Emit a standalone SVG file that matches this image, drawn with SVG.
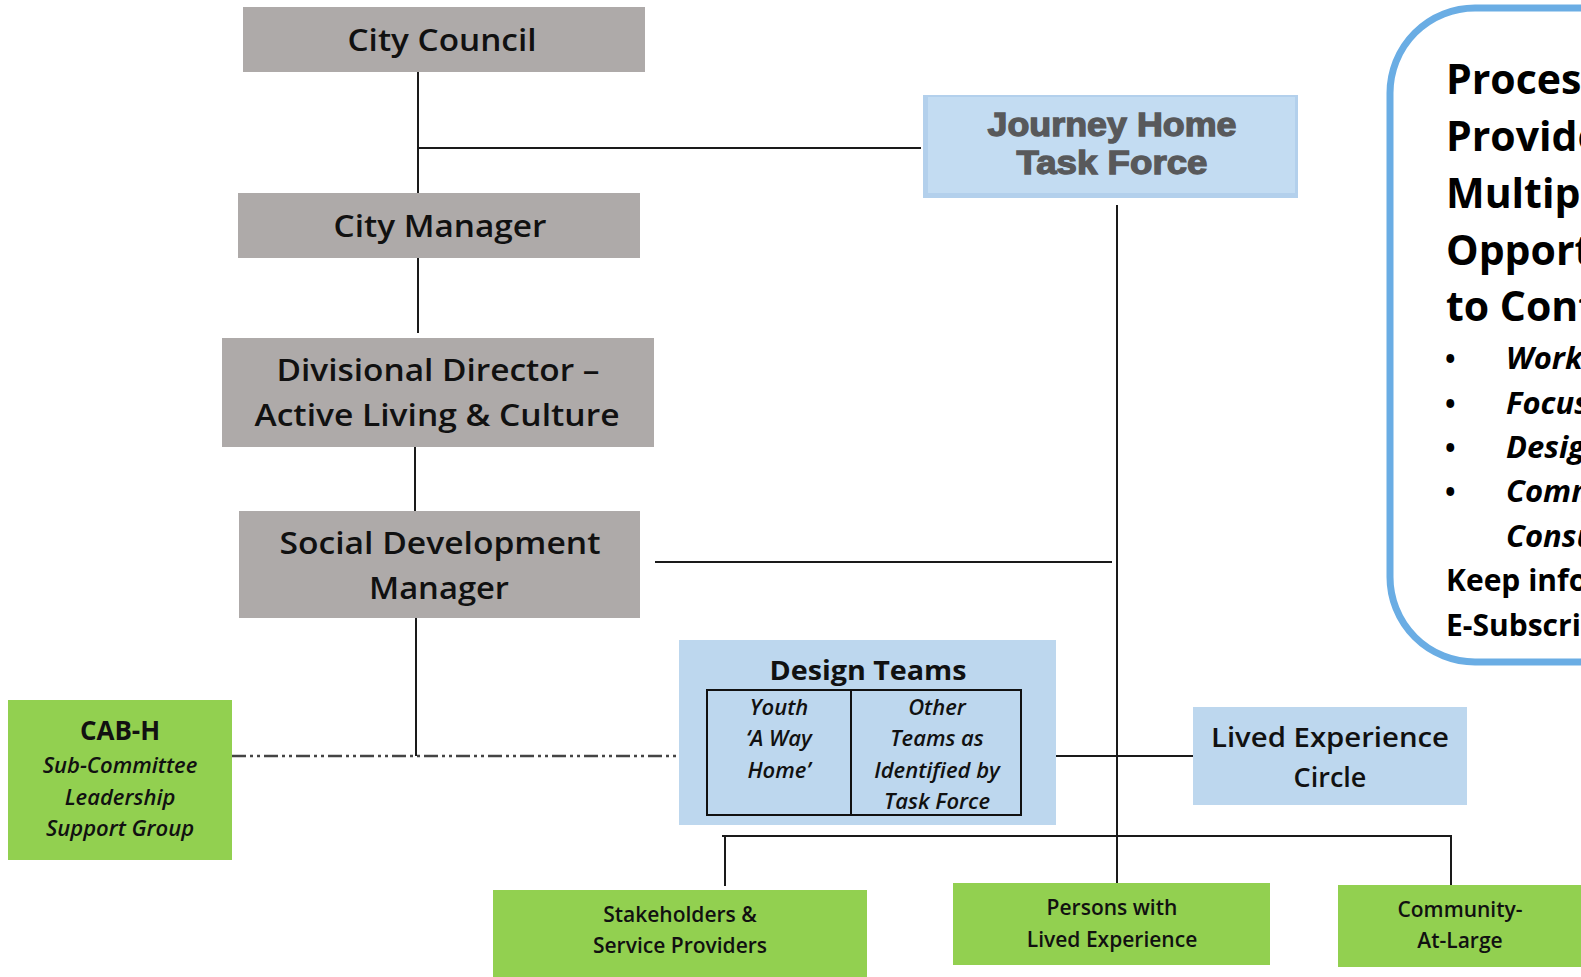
<svg xmlns="http://www.w3.org/2000/svg" width="1581" height="977" viewBox="0 0 1581 977">
<style>
.gray{fill:#AEAAA9}
.blue{fill:#BDD7EE}
.green{fill:#92D050}
.t{font-family:"Open Sans","Liberation Sans",sans-serif;fill:#111;text-anchor:middle}
.hd{font-size:31px;font-weight:600}
.it{font-size:22px;font-style:italic;font-weight:600}
.gt{font-size:21px;font-weight:600}
.jh{font-family:"Liberation Sans",Arial,sans-serif;font-weight:bold;font-size:33px;fill:#58595B;stroke:#58595B;stroke-width:1.3;text-anchor:middle}
.ln{stroke:#1a1a1a;stroke-width:2;fill:none}
.co{font-family:"Open Sans","Liberation Sans",sans-serif;fill:#000;font-weight:700}
</style>
<rect width="1581" height="977" fill="#fff"/>
<g id="connectors">
<line class="ln" x1="418" y1="72" x2="418" y2="193"/>
<line class="ln" x1="418" y1="148" x2="921" y2="148"/>
<line class="ln" x1="418" y1="258" x2="418" y2="333"/>
<line class="ln" x1="415" y1="447" x2="415" y2="511"/>
<line class="ln" x1="416" y1="618" x2="416" y2="756"/>
<line x1="232" y1="756" x2="679" y2="756" stroke="#444" stroke-width="2.5" stroke-dasharray="14,4,3,4,3,4"/>
<line class="ln" x1="655" y1="562" x2="1112" y2="562"/>
<line class="ln" x1="1117" y1="205" x2="1117" y2="836"/>
<line class="ln" x1="1056" y1="756" x2="1195" y2="756"/>
<line class="ln" x1="722" y1="836" x2="1452" y2="836" stroke-width="2.5"/>
<line class="ln" x1="725" y1="836" x2="725" y2="886"/>
<line class="ln" x1="1117" y1="836" x2="1117" y2="883"/>
<line class="ln" x1="1451" y1="836" x2="1451" y2="885"/>
</g>
<g id="city-council">
<rect class="gray" x="243" y="7" width="402" height="65"/>
<text class="t hd" x="442" y="51" textLength="189" lengthAdjust="spacingAndGlyphs">City Council</text>
</g>
<g id="city-manager">
<rect class="gray" x="238" y="193" width="402" height="65"/>
<text class="t hd" x="440" y="237" textLength="213" lengthAdjust="spacingAndGlyphs">City Manager</text>
</g>
<g id="divisional-director">
<rect class="gray" x="222" y="338" width="432" height="109"/>
<text class="t hd" x="438" y="381" textLength="323" lengthAdjust="spacingAndGlyphs">Divisional Director –</text>
<text class="t hd" x="437" y="426" textLength="365" lengthAdjust="spacingAndGlyphs">Active Living &amp; Culture</text>
</g>
<g id="social-development-manager">
<rect class="gray" x="239" y="511" width="401" height="107"/>
<text class="t hd" x="440" y="554" textLength="321" lengthAdjust="spacingAndGlyphs">Social Development</text>
<text class="t hd" x="439" y="599" textLength="140" lengthAdjust="spacingAndGlyphs">Manager</text>
</g>
<g id="journey-home">
<rect x="923" y="95" width="375" height="103" fill="#B3D0EC"/>
<rect x="928" y="97" width="367" height="96" fill="#C3DCF2"/>
<text class="jh" x="1112" y="136" textLength="249" lengthAdjust="spacingAndGlyphs">Journey Home</text>
<text class="jh" x="1112" y="174" textLength="191" lengthAdjust="spacingAndGlyphs">Task Force</text>
</g>
<g id="design-teams">
<rect class="blue" x="679" y="640" width="377" height="185"/>
<text class="t" x="868" y="680" font-size="26" font-weight="700" textLength="197" lengthAdjust="spacingAndGlyphs">Design Teams</text>
<rect x="707" y="690" width="314" height="125" fill="none" stroke="#111" stroke-width="2"/>
<line x1="851" y1="690" x2="851" y2="815" stroke="#111" stroke-width="2"/>
<text class="t it" x="779" y="715">Youth</text>
<text class="t it" x="779" y="746">‘A Way</text>
<text class="t it" x="779" y="778">Home’</text>
<text class="t it" x="937" y="715">Other</text>
<text class="t it" x="937" y="746">Teams as</text>
<text class="t it" x="937" y="778">Identified by</text>
<text class="t it" x="937" y="809">Task Force</text>
</g>
<g id="lived-experience-circle">
<rect class="blue" x="1193" y="707" width="274" height="98"/>
<text class="t" x="1330" y="747" font-size="27" font-weight="600" textLength="238" lengthAdjust="spacingAndGlyphs">Lived Experience</text>
<text class="t" x="1330" y="787" font-size="27" font-weight="600">Circle</text>
</g>
<g id="cab-h">
<rect class="green" x="8" y="700" width="224" height="160"/>
<text class="t" x="120" y="740" font-size="26" font-weight="700">CAB-H</text>
<text class="t it" x="120" y="773">Sub-Committee</text>
<text class="t it" x="120" y="805">Leadership</text>
<text class="t it" x="120" y="836">Support Group</text>
</g>
<g id="stakeholders">
<rect class="green" x="493" y="890" width="374" height="87"/>
<text class="t gt" x="680" y="922">Stakeholders &amp;</text>
<text class="t gt" x="680" y="953">Service Providers</text>
</g>
<g id="persons-lived-experience">
<rect class="green" x="953" y="883" width="317" height="82"/>
<text class="t gt" x="1112" y="915">Persons with</text>
<text class="t gt" x="1112" y="947">Lived Experience</text>
</g>
<g id="community-at-large">
<rect class="green" x="1338" y="885" width="260" height="82"/>
<text class="t gt" x="1460" y="917">Community-</text>
<text class="t gt" x="1460" y="948">At-Large</text>
</g>
<g id="process-callout">
<rect x="1390" y="8" width="320" height="654" rx="85" ry="85" fill="#fff" stroke="#6AADE4" stroke-width="7"/>
<text class="co" x="1446" y="94" font-size="41">Process</text>
<text class="co" x="1446" y="151" font-size="41">Provides</text>
<text class="co" x="1446" y="208" font-size="41">Multiple</text>
<text class="co" x="1446" y="265" font-size="41">Opportunities</text>
<text class="co" x="1446" y="321" font-size="41">to Contribute</text>
<text class="co" x="1445" y="369" font-size="28" font-weight="400">•</text>
<text class="co" x="1445" y="414" font-size="28" font-weight="400">•</text>
<text class="co" x="1445" y="458" font-size="28" font-weight="400">•</text>
<text class="co" x="1445" y="502" font-size="28" font-weight="400">•</text>
<text class="co" x="1506" y="369" font-size="31" font-style="italic" font-weight="600">Workshops</text>
<text class="co" x="1506" y="414" font-size="31" font-style="italic" font-weight="600">Focus Groups</text>
<text class="co" x="1506" y="458" font-size="31" font-style="italic" font-weight="600">Design Teams</text>
<text class="co" x="1506" y="502" font-size="31" font-style="italic" font-weight="600">Community</text>
<text class="co" x="1506" y="547" font-size="31" font-style="italic" font-weight="600">Consultations</text>
<text class="co" x="1446" y="591" font-size="30">Keep informed</text>
<text class="co" x="1446" y="636" font-size="30">E-Subscribe</text>
</g>
</svg>
